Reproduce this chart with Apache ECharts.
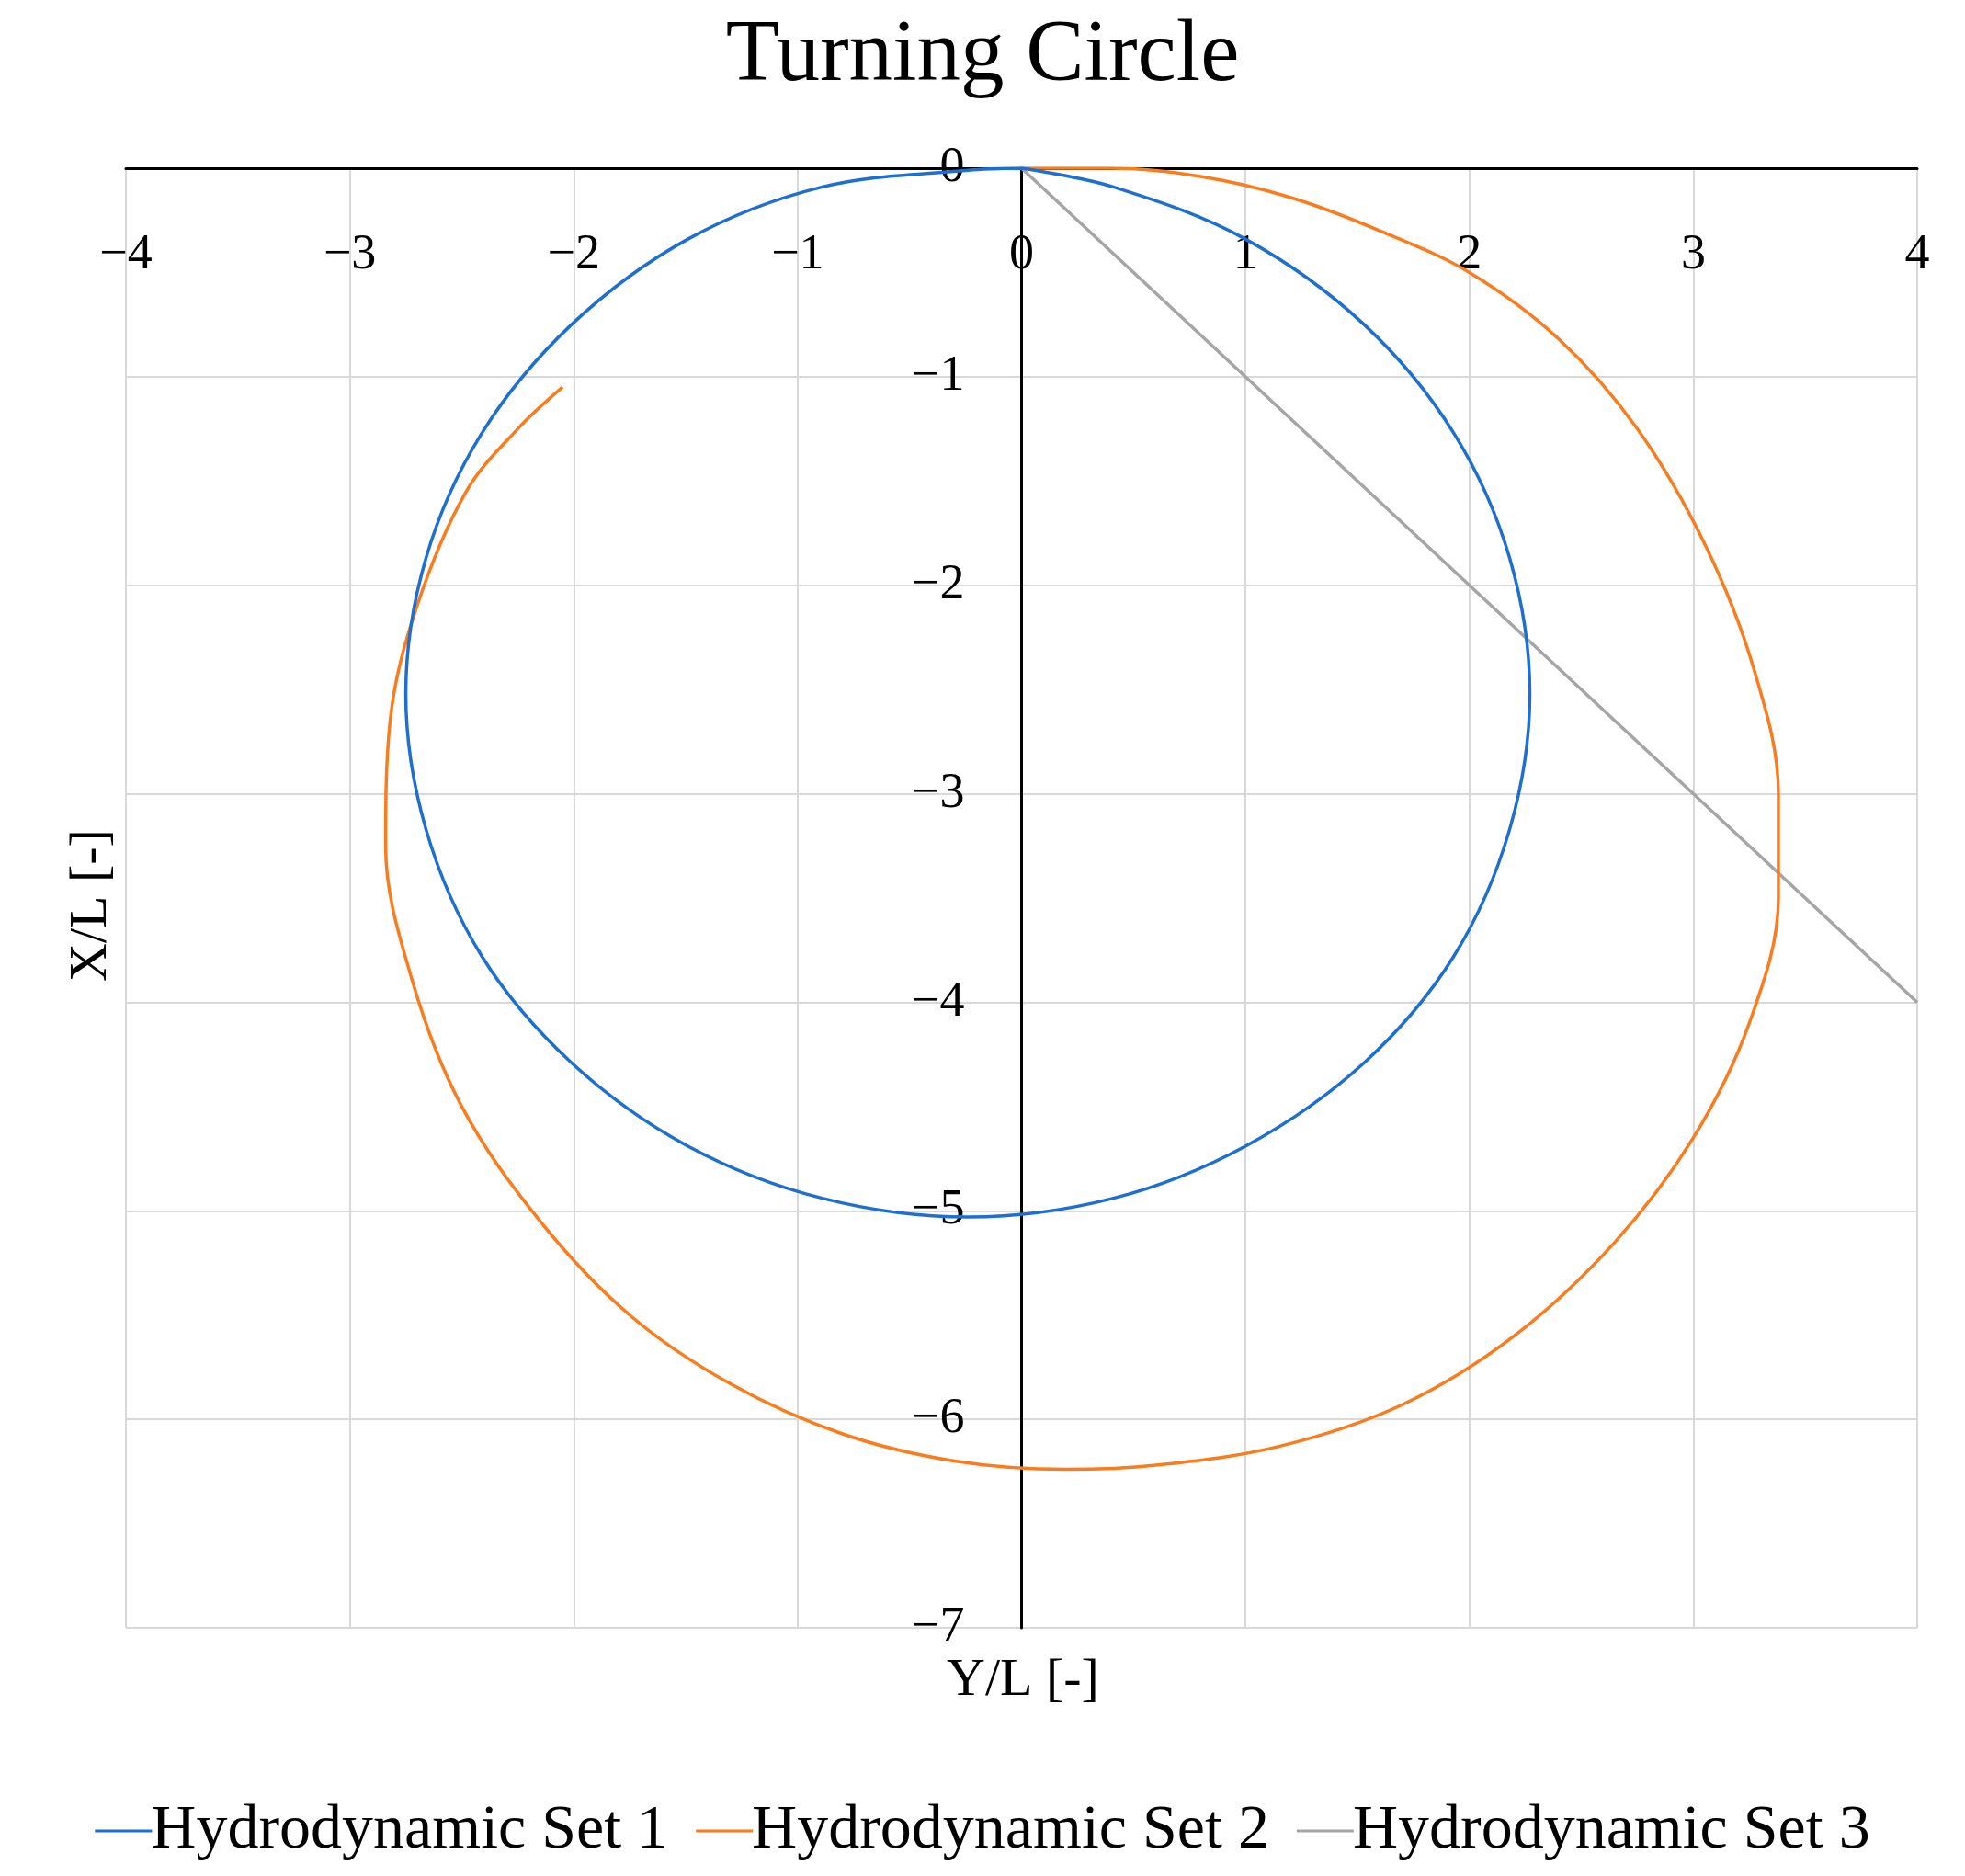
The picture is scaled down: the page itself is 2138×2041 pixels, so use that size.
<!DOCTYPE html>
<html><head><meta charset="utf-8">
<script src="https://cdn.jsdelivr.net/npm/echarts@6/dist/echarts.min.js"></script>
<style>html,body{margin:0;padding:0;background:#fff}#c{width:2138px;height:2041px}</style>
</head><body><div id="c"></div>
<script>
const xTicks=[-4,-3,-2,-1,0,1,2,3,4];
const yTicks=[-7,-6,-5,-4,-3,-2,-1,0];
const set1=[[0,0],[0.41,-0.09],[1.0,-0.34],[1.53,-0.75],[1.93,-1.27],[2.18,-1.87],[2.27,-2.52],[2.18,-3.17],[1.93,-3.78],[1.53,-4.29],[1.0,-4.69],[0.41,-4.94],[-0.24,-5.03],[-0.89,-4.94],[-1.49,-4.69],[-2.01,-4.29],[-2.41,-3.78],[-2.66,-3.17],[-2.75,-2.52],[-2.66,-1.87],[-2.41,-1.27],[-2.01,-0.75],[-1.49,-0.34],[-0.89,-0.09],[-0.24,-0.01],[0,0]];
const set2=[[0,0],[0.4,0],[0.8,-0.04],[1.2,-0.14],[1.6,-0.3],[2.0,-0.5],[2.4,-0.82],[2.75,-1.25],[3.05,-1.8],[3.27,-2.4],[3.38,-3.0],[3.38,-3.5],[3.25,-4.1],[3.0,-4.65],[2.65,-5.15],[2.2,-5.6],[1.7,-5.93],[1.15,-6.13],[0.6,-6.22],[0.2,-6.24],[-0.3,-6.2],[-0.8,-6.07],[-1.3,-5.83],[-1.75,-5.5],[-2.15,-5.05],[-2.5,-4.5],[-2.72,-3.9],[-2.84,-3.25],[-2.82,-2.65],[-2.7,-2.1],[-2.48,-1.55],[-2.25,-1.25],[-2.05,-1.05]];
const set3=[[0,0],[4,-4]];
const names=['Hydrodynamic Set 1','Hydrodynamic Set 2','Hydrodynamic Set 3'];
const colors=['#1f6fd1','#f97c1f','#a5a5a5'];
const F='"Liberation Serif", "DejaVu Serif", serif';
const fmt=v=>String(v).replace('-','\u2212');
const GL=137, GR=52;
const W=2138-GL-GR;
const ch=echarts.init(document.getElementById('c'));
ch.setOption({
  title:{text:'Turning Circle',left:'center',top:10,textStyle:{fontFamily:F,fontSize:95,fontWeight:'normal',color:'#000'}},
  grid:{left:GL,right:GR,top:183,bottom:270},
  xAxis:{type:'value',position:'top',min:-4,max:4,interval:1,
    axisLine:{onZero:true,lineStyle:{color:'#000',width:3}},axisTick:{show:false},
    axisLabel:{inside:true,margin:68,fontFamily:F,fontSize:54,color:'#000',formatter:fmt,verticalAlign:'top'},
    splitLine:{lineStyle:{color:'#d9d9d9',width:2}}},
  yAxis:{type:'value',min:-7,max:0,interval:1,offset:-W/2,
    axisLine:{onZero:false,lineStyle:{color:'#000',width:3}},axisTick:{show:false},
    axisLabel:{margin:62,fontFamily:F,fontSize:54,color:'#000',formatter:fmt},
    splitLine:{lineStyle:{color:'#d9d9d9',width:2}}},
  legend:{bottom:10,left:'center',itemGap:30,itemWidth:62,itemHeight:3,icon:'rect',
    textStyle:{fontFamily:F,fontSize:68,color:'#000',padding:[0,0,0,-6]},data:names},
  graphic:[
    {type:'text',left:1030,top:1800,style:{text:'Y/L [-]',font:'58px '+F,fill:'#000'}},
    {type:'text',x:100,y:985,rotation:Math.PI/2,style:{text:'X/L [-]',font:'58px '+F,fill:'#000',align:'center',verticalAlign:'middle'}}
  ],
  series:[set1,set2,set3].map((d,i)=>({name:names[i],type:'line',data:d,smooth:i<2?0.35:false,showSymbol:false,symbol:'none',
    lineStyle:{color:colors[i],width:3.5},itemStyle:{color:colors[i]},z:3-i}))
});
</script></body></html>
